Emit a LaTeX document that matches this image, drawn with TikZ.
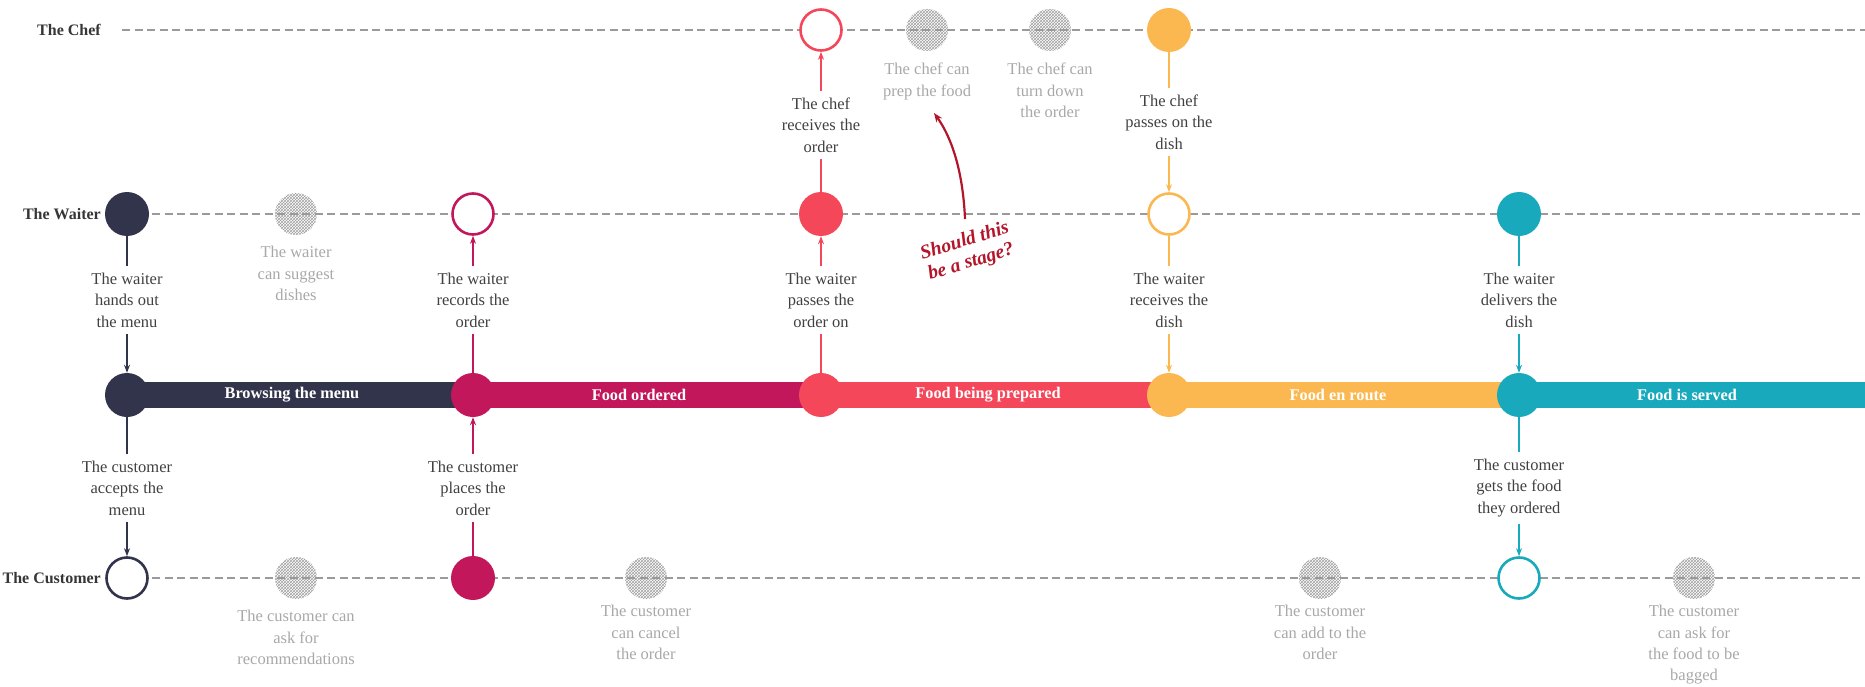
\documentclass[tikz,border=0pt]{standalone}
\usepackage{fontspec}
\setmainfont{Liberation Serif}
\usetikzlibrary{arrows.meta,patterns}
\definecolor{cnavy}{HTML}{32344C}
\definecolor{ccrim}{HTML}{C2185B}
\definecolor{ccoral}{HTML}{F4475A}
\definecolor{cyell}{HTML}{FBB850}
\definecolor{cteal}{HTML}{19A9BD}
\definecolor{laneg}{HTML}{9A9A9A}
\definecolor{hatchg}{HTML}{A0A0A0}
\definecolor{descg}{HTML}{404040}
\definecolor{optg}{HTML}{A8A8A8}
\definecolor{roleg}{HTML}{363636}
\definecolor{annred}{HTML}{B3152A}
\begin{document}
\begin{tikzpicture}[x=1pt,y=-1pt,
  lane/.style={draw=laneg, line width=2.2pt, dash pattern=on 8pt off 4.5pt},
  dot/.style={circle, minimum size=44pt, inner sep=0pt},
  fdot/.style={dot, fill=#1},
  odot/.style={dot, draw=#1, line width=2.6pt, fill=white, minimum size=41pt},
  hdot/.style={circle, minimum size=42pt, inner sep=0pt, pattern=crosshatch, pattern color=hatchg},
  desc/.style={align=center, text=descg, font=\fontsize{16.5}{21.4}\selectfont, inner sep=0pt, outer sep=7pt},
  opt/.style={align=center, text=optg, font=\fontsize{16.5}{21.4}\selectfont, inner sep=0pt, anchor=north},
  role/.style={anchor=east, font=\bfseries\fontsize{16}{20}\selectfont, text=roleg, inner sep=0pt},
  stage/.style={text=white, font=\bfseries\fontsize{16.3}{20}\selectfont, inner sep=0pt},
  link/.style={draw=#1, line width=1.8pt},
  flow/.style={draw=#1, line width=1.8pt, -{Stealth[length=8pt,width=6pt]}},
]
\useasboundingbox (0,0) rectangle (1865,687);
\def\ca{127}\def\cb{473}\def\cc{821}\def\cd{1169}\def\ce{1519}
\def\yc{30}\def\yw{214}\def\yb{395}\def\yu{578}

% optional (hatched) steps
\node[hdot] (hw) at (296,\yw) {};
\node[hdot] (hc1) at (927,\yc) {};
\node[hdot] (hc2) at (1050,\yc) {};
\node[hdot] (hu1) at (296,\yu) {};
\node[hdot] (hu2) at (646,\yu) {};
\node[hdot] (hu3) at (1320,\yu) {};
\node[hdot] (hu4) at (1694,\yu) {};

% lanes
\coordinate (chefA) at (122,\yc); \coordinate (chefB) at (1865,\yc);
\coordinate (waitA) at (\ca,\yw); \coordinate (waitB) at (1865,\yw);
\coordinate (custA) at (\ca,\yu); \coordinate (custB) at (1865,\yu);
\draw[lane] (chefA) -- (chefB);
\draw[lane] (waitA) -- (waitB);
\draw[lane] (custA) -- (custB);

% stage bar
\fill[cnavy] (\ca,382) rectangle (\cb,408);
\fill[ccrim] (\cb,382) rectangle (\cc,408);
\fill[ccoral] (\cc,382) rectangle (\cd,408);
\fill[cyell] (\cd,382) rectangle (\ce,408);
\fill[cteal] (\ce,382) rectangle (1865,408);
\node[stage] (s1) at (292,\yb) {Browsing the menu};
\node[stage] (s2) at (639,\yb) {Food ordered};
\node[stage] (s3) at (988,\yb) {Food being prepared};
\node[stage] (s4) at (1338,\yb) {Food en route};
\node[stage] (s5) at (1687,\yb) {Food is served};

% main dots
\node[fdot=cnavy] (w1) at (\ca,\yw) {};
\node[fdot=cnavy] (b1) at (\ca,\yb) {};
\node[odot=cnavy] (u1) at (\ca,\yu) {};
\node[odot=ccrim] (w2) at (\cb,\yw) {};
\node[fdot=ccrim] (b2) at (\cb,\yb) {};
\node[fdot=ccrim] (u2) at (\cb,\yu) {};
\node[odot=ccoral] (h3) at (\cc,\yc) {};
\node[fdot=ccoral] (w3) at (\cc,\yw) {};
\node[fdot=ccoral] (b3) at (\cc,\yb) {};
\node[fdot=cyell] (h4) at (\cd,\yc) {};
\node[odot=cyell] (w4) at (\cd,\yw) {};
\node[fdot=cyell] (b4) at (\cd,\yb) {};
\node[fdot=cteal] (w5) at (\ce,\yw) {};
\node[fdot=cteal] (b5) at (\ce,\yb) {};
\node[odot=cteal] (u5) at (\ce,\yu) {};

% descriptions and connectors
\node[desc] (d1a) at (\ca,300) {The waiter\\hands out\\the menu};
\draw[link=cnavy] (w1) -- (d1a); \draw[flow=cnavy] (d1a) -- (b1);
\node[desc] (d1b) at (\ca,488) {The customer\\accepts the\\menu};
\draw[link=cnavy] (b1) -- (d1b); \draw[flow=cnavy] (d1b) -- (u1);

\node[desc] (d2a) at (\cb,300) {The waiter\\records the\\order};
\draw[link=ccrim] (b2) -- (d2a); \draw[flow=ccrim] (d2a) -- (w2);
\node[desc] (d2b) at (\cb,488) {The customer\\places the\\order};
\draw[link=ccrim] (u2) -- (d2b); \draw[flow=ccrim] (d2b) -- (b2);

\node[desc] (d3a) at (\cc,125) {The chef\\receives the\\order};
\draw[link=ccoral] (w3) -- (d3a); \draw[flow=ccoral] (d3a) -- (h3);
\node[desc] (d3b) at (\cc,300) {The waiter\\passes the\\order on};
\draw[link=ccoral] (b3) -- (d3b); \draw[flow=ccoral] (d3b) -- (w3);

\node[desc] (d4a) at (\cd,122) {The chef\\passes on the\\dish};
\draw[link=cyell] (h4) -- (d4a); \draw[flow=cyell] (d4a) -- (w4);
\node[desc] (d4b) at (\cd,300) {The waiter\\receives the\\dish};
\draw[link=cyell] (w4) -- (d4b); \draw[flow=cyell] (d4b) -- (b4);

\node[desc] (d5a) at (\ce,300) {The waiter\\delivers the\\dish};
\draw[link=cteal] (w5) -- (d5a); \draw[flow=cteal] (d5a) -- (b5);
\node[desc] (d5b) at (\ce,488) {The customer\\gets the food\\they ordered};
\draw[link=cteal] (b5) -- (d5b); \draw[flow=cteal] (d5b) -- (u5);

% optional labels
\node[opt] (ohw) at (296,246) {The waiter\\can suggest\\dishes};
\node[opt] (ohc1) at (927,63) {The chef can\\prep the food};
\node[opt] (ohc2) at (1050,63) {The chef can\\turn down\\the order};
\node[opt] (ohu1) at (296,610) {The customer can\\ask for\\recommendations};
\node[opt] (ohu2) at (646,605) {The customer\\can cancel\\the order};
\node[opt] (ohu3) at (1320,605) {The customer\\can add to the\\order};
\node[opt] (ohu4) at (1694,605) {The customer\\can ask for\\the food to be\\bagged};

% roles
\node[role] (rc) at (101,\yc) {The Chef};
\node[role] (rw) at (101,\yw) {The Waiter};
\node[role] (ru) at (101,\yu) {The Customer};

% annotation
\coordinate (qs) at (965,219);
\coordinate (qe) at (934,113);
\draw[annred, line width=2.2pt, -{Stealth[length=9pt,width=7pt]}] (qs) .. controls (963,172) and (952,138) .. (qe);
\node[annred, rotate=17, align=center, inner sep=0pt,
  font=\bfseries\itshape\fontsize{19.5}{22}\selectfont] (q) at (968,252) {Should this\\be a stage?};
\end{tikzpicture}
\end{document}
